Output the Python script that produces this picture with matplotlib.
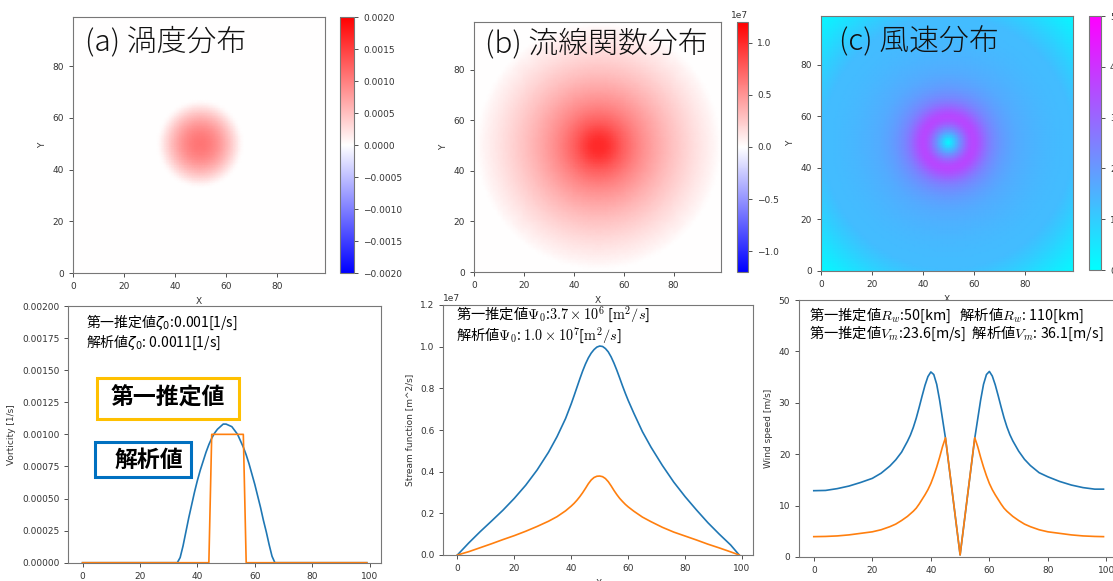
import numpy as np
import matplotlib.pyplot as plt
from matplotlib.patches import Rectangle

# ---- data ----
# vorticity along y=50 [1/s]
vort_x = [0, 33, 34, 35, 36, 37, 38, 39, 40, 41, 42, 43, 44, 45, 46, 47, 48, 49, 50,
          51, 52, 53, 54, 55, 56, 57, 58, 59, 60, 61, 62, 63, 64, 65, 66, 67, 99]
vort_ana = [0, 0, 0.00004, 0.00013, 0.00024, 0.00035, 0.00045, 0.00055, 0.00064, 0.00072,
            0.00079, 0.00086, 0.00092, 0.00097, 0.00101, 0.00104, 0.00106, 0.00108, 0.00108,
            0.00107, 0.00106, 0.00103, 0.00100, 0.00095, 0.00090, 0.00084, 0.00077, 0.00069,
            0.00061, 0.00052, 0.00043, 0.00033, 0.00024, 0.00014, 0.00005, 0, 0]
vort_guess_x = [0, 44, 45, 56, 57, 99]
vort_guess = [0, 0, 0.001, 0.001, 0, 0]

# stream function along y=50 [1e7 m^2/s]
psi_x = [0, 4, 8, 12, 16, 20, 24, 28, 32, 35, 38, 40, 41, 42, 43, 44, 45, 46, 47, 48, 49, 50,
         51, 52, 53, 54, 55, 56, 57, 58, 59, 60, 62, 65, 68, 72, 76, 80, 84, 88, 92, 96, 99]
psi_ana = [0, 0.058, 0.112, 0.163, 0.215, 0.272, 0.335, 0.408, 0.493, 0.568, 0.655, 0.726,
           0.765, 0.805, 0.845, 0.883, 0.917, 0.946, 0.969, 0.986, 0.998, 1.003,
           1.001, 0.991, 0.975, 0.951, 0.921, 0.887, 0.85, 0.812, 0.776, 0.742, 0.68, 0.592,
           0.518, 0.43, 0.35, 0.28, 0.216, 0.155, 0.1, 0.048, 0]
psi_guess = [0, 0.016, 0.035, 0.054, 0.074, 0.093, 0.114, 0.137, 0.162, 0.184, 0.212, 0.235,
             0.248, 0.263, 0.28, 0.299, 0.32, 0.342, 0.36, 0.372, 0.378, 0.379,
             0.376, 0.367, 0.352, 0.332, 0.31, 0.29, 0.272, 0.257, 0.243, 0.231, 0.21, 0.182,
             0.16, 0.133, 0.11, 0.091, 0.072, 0.052, 0.034, 0.015, 0]

# wind speed along y=50 [m/s]
wind_x = [0, 4, 8, 12, 16, 20, 23, 26, 28, 30, 32, 33, 34, 35, 36, 37, 38, 39, 40, 41, 42, 43, 44, 45,
          50,
          55, 56, 57, 58, 59, 60, 61, 62, 63, 64, 65, 66, 67, 68, 70, 72, 74, 77, 80, 84, 88, 92, 96, 99]
wind_ana = [12.9, 12.95, 13.3, 13.8, 14.5, 15.3, 16.3, 17.7, 18.9, 20.4, 22.5, 23.7, 25.2, 27.0,
            29.1, 31.3, 33.4, 35.1, 36.0, 35.5, 33.6, 30.5, 26.8, 23.1,
            0.4,
            23.1, 26.8, 30.5, 33.6, 35.5, 36.1, 35.2, 33.5, 31.4, 29.2, 27.1, 25.3, 23.8, 22.6,
            20.6, 19.0, 17.8, 16.4, 15.6, 14.7, 14.0, 13.5, 13.2, 13.2]
wind_guess = [3.96, 4.0, 4.1, 4.3, 4.6, 4.9, 5.3, 5.9, 6.4, 7.1, 7.9, 8.4, 8.9, 9.5, 10.3, 11.2,
              12.1, 13.1, 14.3, 15.8, 17.5, 19.4, 21.5, 23.2,
              0.4,
              23.2, 21.5, 19.4, 17.5, 15.8, 14.3, 13.1, 12.1, 11.2, 10.3, 9.5, 8.9, 8.4, 7.9,
              7.1, 6.4, 5.9, 5.3, 4.9, 4.6, 4.3, 4.1, 4.0, 3.96]
# wind speed towards the corners of the map (from the colours)
wind_tail_r = [55, 60, 65, 70, 72]
wind_tail = [10, 7, 4, 1.5, 1]

JP = ['Noto Sans CJK JP', 'DejaVu Sans']
W, H = 1113, 581
fig = plt.figure(figsize=(W / 100, H / 100), dpi=100)
plt.rcParams['font.size'] = 6.5


def px_axes(l, t, r, b):
    return fig.add_axes([l / W, 1 - b / H, (r - l) / W, (b - t) / H])


def style(ax):
    for s in ax.spines.values():
        s.set_color('#777')
        s.set_linewidth(0.8)
    ax.tick_params(labelsize=6.5, colors='#333', length=3, width=0.6)


# radial maps from the centre-line profiles (right half, r = x - 50)
g = np.arange(100)
X, Y = np.meshgrid(g, g)
R = np.hypot(X - 50, Y - 50)


def half(xs, vs):
    xs = np.array(xs, float)
    vs = np.array(vs, float)
    m = xs >= 50
    return xs[m] - 50, vs[m]


r1, v1 = half(vort_x, vort_ana)
vort_map = np.interp(R, r1, v1)
r2, v2 = half(psi_x, psi_ana)
psi_map = np.interp(R, r2, v2) * 1e7
r3, v3 = half(wind_x, wind_ana)
wind_map = np.interp(R, np.concatenate([r3, wind_tail_r]), np.concatenate([v3, wind_tail]))

maps = [
    (vort_map, 'bwr', -0.002, 0.002, (73, 17, 325, 273), (340, 17, 354, 273), '(a) 渦度分布', (85, 42)),
    (psi_map, 'bwr', -1.2e7, 1.2e7, (474, 22, 721, 272), (737, 22, 748, 272), '(b) 流線関数分布', (485, 44)),
    (wind_map, 'cool', 0, 50, (821, 16, 1073, 271), (1089, 16, 1101, 270), '(c) 風速分布', (839, 42)),
]
for Z, cmap, lo, hi, box, cbox, title, tpos in maps:
    ax = px_axes(*box)
    pm = ax.pcolormesh(g, g, Z, cmap=cmap, vmin=lo, vmax=hi, shading='gouraud')
    ax.set_xlim(0, 99)
    ax.set_ylim(0, 99)
    ax.set_xlabel('X', fontsize=6.5, color='#333')
    ax.set_ylabel('Y', fontsize=6.5, color='#333')
    style(ax)
    cax = px_axes(*cbox)
    cb = fig.colorbar(pm, cax=cax)
    cb.outline.set_edgecolor('#777')
    cb.ax.tick_params(labelsize=6.5, colors='#333', length=3, width=0.6)
    cb.ax.yaxis.get_offset_text().set_fontsize(6.5)
    fig.text(tpos[0] / W, 1 - tpos[1] / H, title, family=JP, fontsize=21.5, fontweight='light',
             va='center', ha='left', color='#111')

# ---- bottom row ----
ax1 = px_axes(68.3, 306, 381, 562.7)
ax1.plot(vort_x, vort_ana, color='#1f77b4', lw=1.2)
ax1.plot(vort_guess_x, vort_guess, color='#ff7f0e', lw=1.2)
ax1.set_ylim(0, 0.002)
ax1.set_yticks(np.arange(0, 0.00201, 0.00025))
ax1.set_xticks([0, 20, 40, 60, 80, 100])
ax1.set_ylabel('Vorticity [1/s]', fontsize=6.5, color='#333')
ax1.set_xlabel('X', fontsize=6.5, color='#333')
style(ax1)
ax1.text(0.057, 0.935, r'第一推定値$\zeta_0$:0.001[1/s]', transform=ax1.transAxes,
         family=JP, fontsize=10, va='center')
ax1.text(0.057, 0.857, r'解析値$\zeta_0$: 0.0011[1/s]', transform=ax1.transAxes,
         family=JP, fontsize=10, va='center')

ax2 = px_axes(443.3, 305, 753.3, 555)
ax2.plot(psi_x, np.array(psi_ana) * 1e7, color='#1f77b4', lw=1.2)
ax2.plot(psi_x, np.array(psi_guess) * 1e7, color='#ff7f0e', lw=1.2)
ax2.set_ylim(0, 1.2e7)
ax2.set_xticks([0, 20, 40, 60, 80, 100])
ax2.set_ylabel('Stream function [m^2/s]', fontsize=6.5, color='#333')
ax2.set_xlabel('X', fontsize=6.5, color='#333')
style(ax2)
ax2.yaxis.get_offset_text().set_fontsize(6.5)
ax2.text(0.04, 0.962, r'第一推定値$\Psi_0$:$3.7\times10^6$ [$\mathrm{m}^2/s$]', transform=ax2.transAxes,
         family=JP, fontsize=10.3, va='center', math_fontfamily='cm')
ax2.text(0.04, 0.878, r'解析値$\Psi_0$: $1.0\times10^7$[$\mathrm{m}^2/s$]', transform=ax2.transAxes,
         family=JP, fontsize=10.3, va='center', math_fontfamily='cm')

ax3 = px_axes(799.3, 300, 1118, 557)
ax3.plot(wind_x, wind_ana, color='#1f77b4', lw=1.2)
ax3.plot(wind_x, wind_guess, color='#ff7f0e', lw=1.2)
ax3.set_ylim(0, 50)
ax3.set_xticks([0, 20, 40, 60, 80, 100])
ax3.set_ylabel('Wind speed [m/s]', fontsize=6.5, color='#333')
ax3.set_xlabel('X', fontsize=6.5, color='#333')
style(ax3)
ax3.text(0.03, 0.942, r'第一推定値$R_w$:50[km]   解析値$R_w$: 110[km]', transform=ax3.transAxes,
         family=JP, fontsize=10.3, va='center', math_fontfamily='cm')
ax3.text(0.03, 0.87, r'第一推定値$V_m$:23.6[m/s]  解析値$V_m$: 36.1[m/s]', transform=ax3.transAxes,
         family=JP, fontsize=10.3, va='center', math_fontfamily='cm')

# ---- overlay labels on the vorticity panel ----
for (l, t, r, b), ec, label, cx, cy in [
        ((96.7, 377.7, 239.3, 419), '#FFC000', '第一推定値', 168, 398),
        ((95, 441.7, 190.7, 476.7), '#0070C0', '解析値', 149, 460)]:
    fig.patches.append(Rectangle((l / W, 1 - b / H), (r - l) / W, (b - t) / H,
                                 transform=fig.transFigure, facecolor='white',
                                 edgecolor=ec, lw=2.2, zorder=5))
    fig.text(cx / W, 1 - cy / H, label, family=JP, fontsize=16.5, fontweight='bold',
             ha='center', va='center', zorder=6)

fig.savefig('out.png', dpi=100)
